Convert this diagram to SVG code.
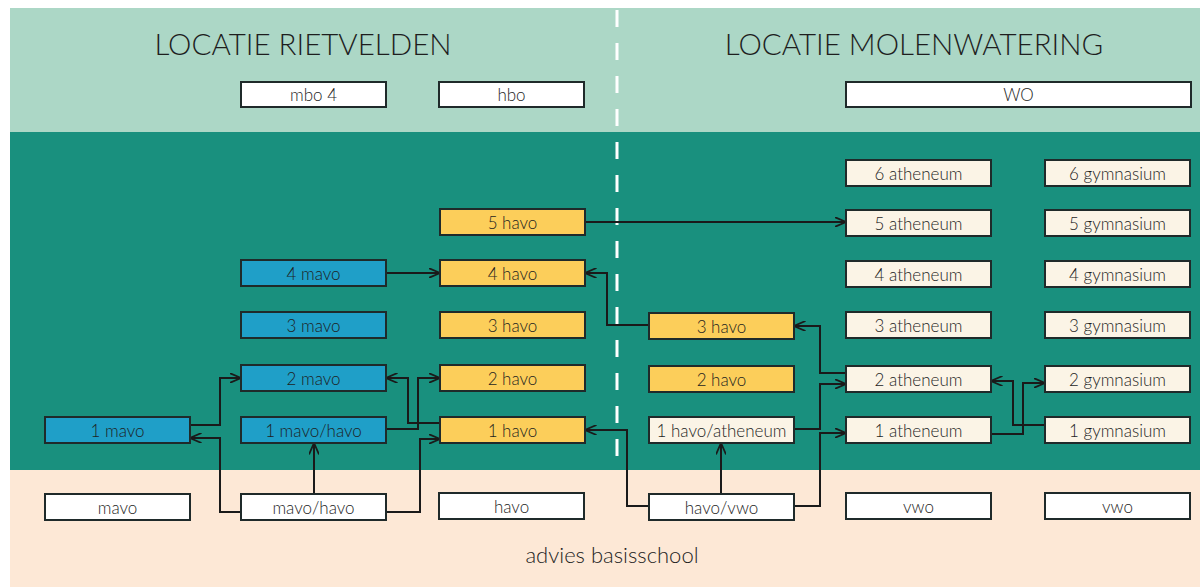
<svg xmlns="http://www.w3.org/2000/svg" width="1200" height="587" viewBox="0 0 1200 587">
<defs>
<style>
.bx{stroke:#1f2a2a;stroke-width:2}
.blue{fill:#1f9fc8}
.yel{fill:#fcce5a}
.crm{fill:#fbf4e6}
.wht{fill:#ffffff}
.lbl{font-family:"Lato","Open Sans",sans-serif;font-size:17px;font-weight:300;fill:#1e1e1e;text-anchor:middle;dominant-baseline:central}
.ttl{font-family:"Lato","Open Sans",sans-serif;font-size:29.5px;font-weight:300;fill:#1e1e1e;text-anchor:middle}
.adv{font-family:"Lato","Open Sans",sans-serif;font-size:22px;font-weight:300;fill:#1e1e1e;text-anchor:middle}
.cn{fill:none;stroke:#1a1a1a;stroke-width:2;marker-end:url(#ah)}
</style>
<marker id="ah" viewBox="0 0 12 10" refX="11.5" refY="5" markerWidth="12" markerHeight="10" markerUnits="userSpaceOnUse" orient="auto">
<path d="M0,0 L11.5,5 L0,10" fill="none" stroke="#1a1a1a" stroke-width="1.8"/>
</marker>
</defs>
<rect x="0" y="0" width="1200" height="587" fill="#ffffff"/>
<rect x="10" y="8" width="1190" height="124" fill="#acd7c6"/>
<rect x="10" y="132" width="1190" height="338" fill="#19907e"/>
<rect x="10" y="470" width="1190" height="117" fill="#fde8d6"/>
<line x1="617" y1="10" x2="617" y2="468" stroke="#ffffff" stroke-width="3" stroke-dasharray="17 16"/>
<text class="ttl" x="303" y="55">LOCATIE RIETVELDEN</text>
<text class="ttl" x="914" y="55">LOCATIE MOLENWATERING</text>
<text class="adv" x="612" y="563">advies basisschool</text>

<g id="connectors">
<path class="cn" d="M386,273 H440"/>
<path class="cn" d="M585,222 H846"/>
<path class="cn" d="M649,325 H607 V273 H585"/>
<path class="cn" d="M846,373 H820 V326 H794"/>
<path class="cn" d="M794,429 H820 V384 H846"/>
<path class="cn" d="M794,506 H820 V433 H846"/>
<path class="cn" d="M721,494 V443"/>
<path class="cn" d="M649,506 H627 V430 H585"/>
<path class="cn" d="M1045,425 H1013 V381 H991"/>
<path class="cn" d="M991,434 H1023 V383 H1045"/>
<path class="cn" d="M190,425 H220 V378 H241"/>
<path class="cn" d="M241,512 H220 V438 H190"/>
<path class="cn" d="M314,494 V443"/>
<path class="cn" d="M386,512 H420 V439 H440"/>
<path class="cn" d="M386,429 H418 V378 H440"/>
<path class="cn" d="M440,423 H408 V378 H386"/>
</g>

<g id="n-mbo4"><rect class="bx wht" x="241" y="82" width="145" height="25"/><text class="lbl" x="313.5" y="94.5">mbo 4</text></g>
<g id="n-hbo"><rect class="bx wht" x="439" y="82" width="145" height="25"/><text class="lbl" x="511.5" y="94.5">hbo</text></g>
<g id="n-wo"><rect class="bx wht" x="846" y="82" width="345" height="25"/><text class="lbl" x="1018.5" y="94.5">WO</text></g>

<g id="n-4mavo"><rect class="bx blue" x="241" y="260" width="145" height="26"/><text class="lbl" x="313.5" y="273">4 mavo</text></g>
<g id="n-3mavo"><rect class="bx blue" x="241" y="312" width="145" height="26"/><text class="lbl" x="313.5" y="325">3 mavo</text></g>
<g id="n-2mavo"><rect class="bx blue" x="241" y="365" width="145" height="26"/><text class="lbl" x="313.5" y="378">2 mavo</text></g>
<g id="n-1mavohavo"><rect class="bx blue" x="241" y="417" width="145" height="26"/><text class="lbl" x="313.5" y="430">1 mavo/havo</text></g>
<g id="n-1mavo"><rect class="bx blue" x="45" y="417" width="145" height="26"/><text class="lbl" x="117.5" y="430">1 mavo</text></g>

<g id="n-5havo"><rect class="bx yel" x="440" y="209" width="145" height="26"/><text class="lbl" x="512.5" y="222">5 havo</text></g>
<g id="n-4havo"><rect class="bx yel" x="440" y="260" width="145" height="26"/><text class="lbl" x="512.5" y="273">4 havo</text></g>
<g id="n-3havo"><rect class="bx yel" x="440" y="312" width="145" height="26"/><text class="lbl" x="512.5" y="325">3 havo</text></g>
<g id="n-2havo"><rect class="bx yel" x="440" y="365" width="145" height="26"/><text class="lbl" x="512.5" y="378">2 havo</text></g>
<g id="n-1havo"><rect class="bx yel" x="440" y="417" width="145" height="26"/><text class="lbl" x="512.5" y="430">1 havo</text></g>

<g id="n-3havo-m"><rect class="bx yel" x="649" y="313" width="145" height="26"/><text class="lbl" x="721.5" y="326">3 havo</text></g>
<g id="n-2havo-m"><rect class="bx yel" x="649" y="366" width="145" height="26"/><text class="lbl" x="721.5" y="379">2 havo</text></g>
<g id="n-1havoath"><rect class="bx crm" x="649" y="417" width="145" height="26"/><text class="lbl" x="721.5" y="430">1 havo/atheneum</text></g>

<g id="n-6ath"><rect class="bx crm" x="846" y="160" width="145" height="26"/><text class="lbl" x="918.5" y="173">6 atheneum</text></g>
<g id="n-5ath"><rect class="bx crm" x="846" y="210" width="145" height="26"/><text class="lbl" x="918.5" y="223">5 atheneum</text></g>
<g id="n-4ath"><rect class="bx crm" x="846" y="261" width="145" height="26"/><text class="lbl" x="918.5" y="274">4 atheneum</text></g>
<g id="n-3ath"><rect class="bx crm" x="846" y="312" width="145" height="26"/><text class="lbl" x="918.5" y="325">3 atheneum</text></g>
<g id="n-2ath"><rect class="bx crm" x="846" y="366" width="145" height="26"/><text class="lbl" x="918.5" y="379">2 atheneum</text></g>
<g id="n-1ath"><rect class="bx crm" x="846" y="417" width="145" height="26"/><text class="lbl" x="918.5" y="430">1 atheneum</text></g>

<g id="n-6gym"><rect class="bx crm" x="1045" y="160" width="145" height="26"/><text class="lbl" x="1117.5" y="173">6 gymnasium</text></g>
<g id="n-5gym"><rect class="bx crm" x="1045" y="210" width="145" height="26"/><text class="lbl" x="1117.5" y="223">5 gymnasium</text></g>
<g id="n-4gym"><rect class="bx crm" x="1045" y="261" width="145" height="26"/><text class="lbl" x="1117.5" y="274">4 gymnasium</text></g>
<g id="n-3gym"><rect class="bx crm" x="1045" y="312" width="145" height="26"/><text class="lbl" x="1117.5" y="325">3 gymnasium</text></g>
<g id="n-2gym"><rect class="bx crm" x="1045" y="366" width="145" height="26"/><text class="lbl" x="1117.5" y="379">2 gymnasium</text></g>
<g id="n-1gym"><rect class="bx crm" x="1045" y="417" width="145" height="26"/><text class="lbl" x="1117.5" y="430">1 gymnasium</text></g>

<g id="n-adv-mavo"><rect class="bx wht" x="45" y="494" width="145" height="26"/><text class="lbl" x="117.5" y="507">mavo</text></g>
<g id="n-adv-mavohavo"><rect class="bx wht" x="241" y="494" width="145" height="26"/><text class="lbl" x="313.5" y="507">mavo/havo</text></g>
<g id="n-adv-havo"><rect class="bx wht" x="439" y="493" width="145" height="26"/><text class="lbl" x="511.5" y="506">havo</text></g>
<g id="n-adv-havovwo"><rect class="bx wht" x="649" y="494" width="145" height="26"/><text class="lbl" x="721.5" y="507">havo/vwo</text></g>
<g id="n-adv-vwo1"><rect class="bx wht" x="846" y="493" width="145" height="26"/><text class="lbl" x="918.5" y="506">vwo</text></g>
<g id="n-adv-vwo2"><rect class="bx wht" x="1045" y="493" width="145" height="26"/><text class="lbl" x="1117.5" y="506">vwo</text></g>
</svg>
